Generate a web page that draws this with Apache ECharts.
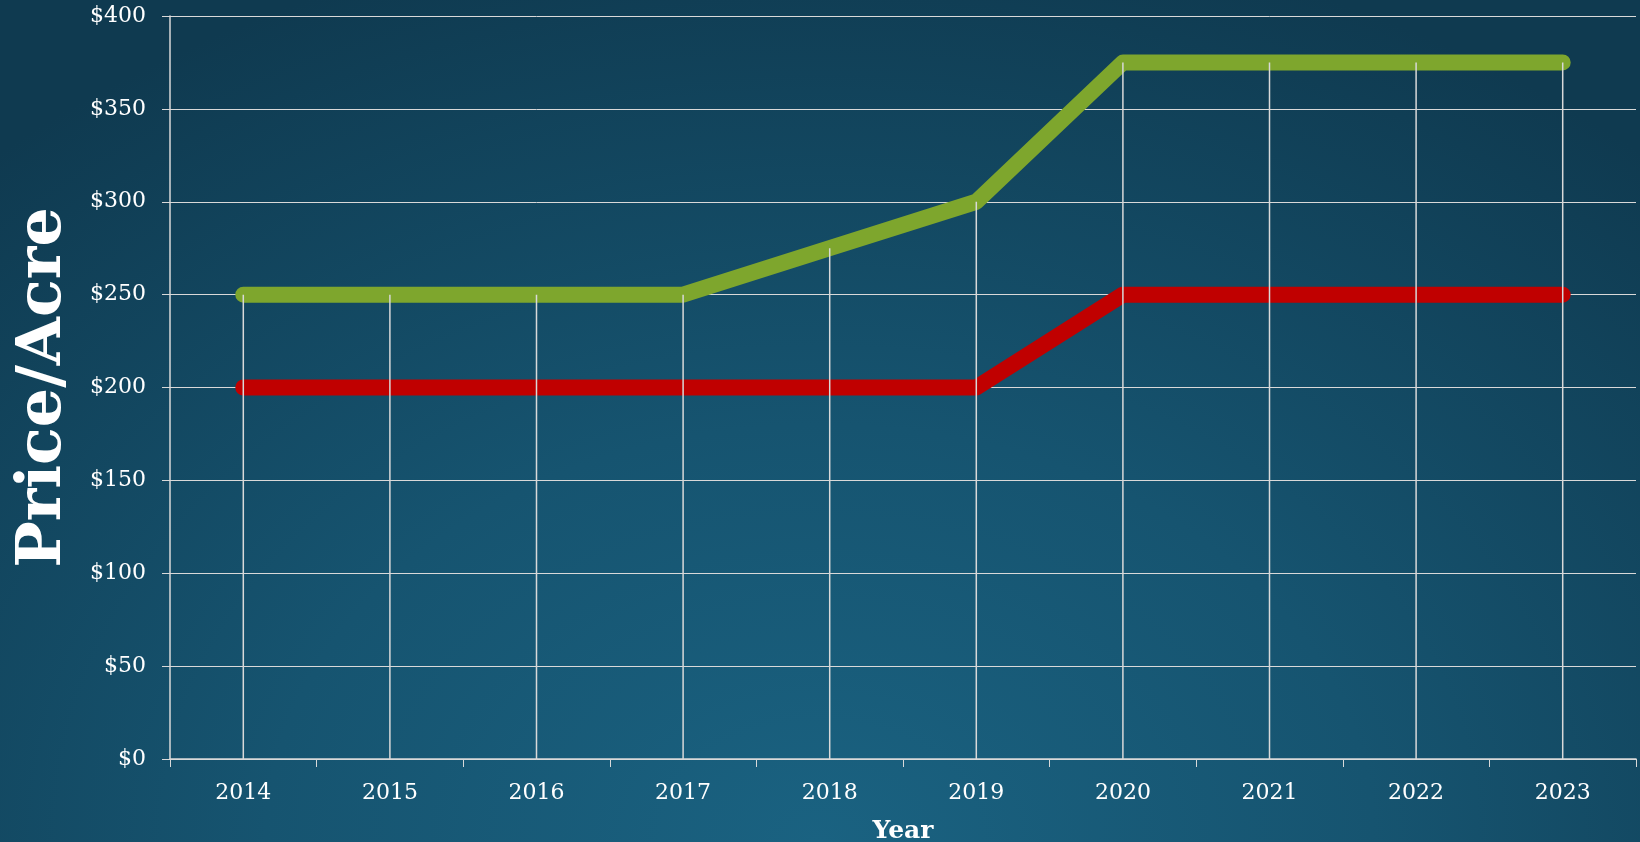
<!DOCTYPE html>
<html>
<head>
<meta charset="utf-8">
<script src="https://cdn.jsdelivr.net/npm/echarts@6/dist/echarts.min.js"></script>
<style>
  html, body {
    margin: 0;
    padding: 0;
    width: 1640px;
    height: 842px;
    overflow: hidden;
    background: radial-gradient(ellipse 75% 110% at 50% 100%, #1a6281 0%, #165470 45%, #0f3a50 100%);
  }
  #chart {
    width: 1640px;
    height: 842px;
  }
</style>
</head>
<body>
<div id="chart"></div>
<script>
const years = ['2014', '2015', '2016', '2017', '2018', '2019', '2020', '2021', '2022', '2023']
const highPrice = [250, 250, 250, 250, 275, 300, 375, 375, 375, 375]
const lowPrice = [200, 200, 200, 200, 200, 200, 250, 250, 250, 250]
const yTicks = [0, 50, 100, 150, 200, 250, 300, 350, 400]

// drop lines go from the highest point of each year down to the axis
const dropLine = years.map((y, i) => Math.max(highPrice[i], lowPrice[i]))

const font = "'DejaVu Serif', Georgia, serif"
const grey = '#d9d9d9'

const chart = echarts.init(document.getElementById('chart'))
chart.setOption({
  animation: false,
  backgroundColor: 'transparent',
  grid: {
    left: 170,
    right: 4,
    top: 16,
    bottom: 83,
    containLabel: false,
    outerBoundsMode: 'none',
  },
  xAxis: {
    type: 'category',
    data: years,
    boundaryGap: true,
    name: 'Year',
    nameLocation: 'middle',
    nameGap: 60,
    nameTextStyle: {
      color: '#fff',
      fontFamily: font,
      fontWeight: 'bold',
      fontSize: 25,
    },
    axisLine: {
      show: true,
      lineStyle: { color: grey, width: 1.5 },
    },
    axisTick: {
      show: true,
      length: 8,
      lineStyle: { color: grey },
    },
    axisLabel: {
      color: '#fff',
      fontFamily: font,
      fontSize: 22,
      margin: 23,
    },
    splitLine: { show: false },
  },
  yAxis: {
    type: 'value',
    min: yTicks[0],
    max: yTicks[yTicks.length - 1],
    interval: 50,
    name: 'Price/Acre',
    nameLocation: 'middle',
    nameGap: 95,
    nameTextStyle: {
      color: '#fff',
      fontFamily: font,
      fontWeight: 'bold',
      fontSize: 62,
    },
    axisLine: {
      show: true,
      lineStyle: { color: grey, width: 1.5 },
    },
    axisTick: {
      show: true,
      length: 8,
      lineStyle: { color: grey },
    },
    axisLabel: {
      color: '#fff',
      fontFamily: font,
      fontSize: 22,
      margin: 24,
      formatter: (v) => '$' + v,
    },
    splitLine: {
      show: true,
      lineStyle: { color: grey, width: 1 },
    },
  },
  series: [
    {
      name: 'High',
      type: 'line',
      data: highPrice,
      symbol: 'none',
      z: 2,
      lineStyle: { color: '#7ea62d', width: 16, cap: 'round', join: 'round' },
    },
    {
      name: 'Low',
      type: 'line',
      data: lowPrice,
      symbol: 'none',
      z: 2,
      lineStyle: { color: '#c00000', width: 16, cap: 'round', join: 'round' },
    },
    {
      name: 'drop',
      type: 'bar',
      data: dropLine,
      barWidth: 1.5,
      z: 5,
      silent: true,
      itemStyle: { color: grey },
    },
  ],
})
</script>
</body>
</html>
